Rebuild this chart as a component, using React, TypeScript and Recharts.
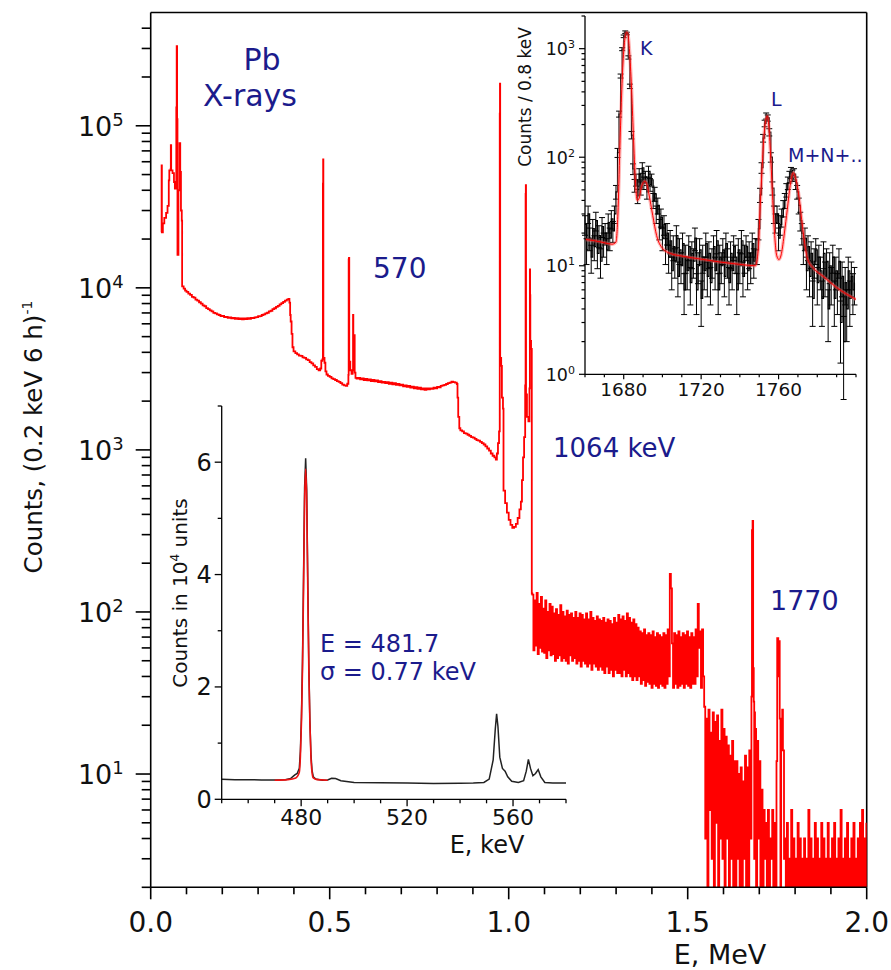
import { LineChart, Line, XAxis, YAxis, ReferenceLine, ErrorBar } from 'recharts';

const FONT = '"DejaVu Sans", Verdana, sans-serif';
const NAVY = '#1b1b8c';
const INK = '#111';

// ---- main spectrum: E in MeV, counts per 0.2 keV in 6 h ----
const xrayPeaks = [
  [0.0295, 2.2e4], [0.0305, 5.7e4], [0.0312, 2.2e4], [0.034, 2.5e4], [0.038, 2.7e4],
  [0.043, 2.9e4], [0.047, 3.2e4], [0.0505, 4.6e4], [0.052, 5.3e4], [0.0555, 5.4e4],
  [0.0562, 7.6e4], [0.0572, 5.3e4], [0.061, 5.1e4], [0.065, 4.5e4], [0.0675, 4.1e4],
  [0.0715, 1.3e5], [0.0726, 3.1e5], [0.0738, 1.1e5], [0.0748, 1.6e4], [0.0775, 4.0e4],
  [0.0805, 7.8e4], [0.0825, 5.2e4], [0.0845, 3.0e4], [0.0868, 2.6e4],
];

const continuum = [
  [0.0878, 1.02e4], [0.092, 9.9e3], [0.096, 9.6e3], [0.1, 9.45e3], [0.105, 9.2e3], [0.11, 9.05e3],
  [0.115, 8.8e3], [0.12, 8.7e3], [0.125, 8.45e3], [0.13, 8.35e3], [0.135, 8.15e3], [0.14, 8.0e3],
  [0.145, 7.8e3], [0.15, 7.7e3], [0.155, 7.5e3], [0.16, 7.4e3], [0.165, 7.25e3], [0.17, 7.15e3],
  [0.175, 7.0e3], [0.18, 6.95e3], [0.185, 6.85e3], [0.19, 6.8e3], [0.195, 6.7e3], [0.2, 6.72e3],
  [0.205, 6.6e3], [0.21, 6.62e3], [0.215, 6.52e3], [0.22, 6.58e3], [0.225, 6.48e3], [0.23, 6.53e3],
  [0.235, 6.44e3], [0.24, 6.5e3], [0.245, 6.42e3], [0.25, 6.48e3], [0.255, 6.4e3], [0.26, 6.47e3],
  [0.265, 6.42e3], [0.27, 6.5e3], [0.275, 6.44e3], [0.28, 6.52e3], [0.285, 6.5e3], [0.29, 6.58e3],
  [0.295, 6.6e3], [0.3, 6.68e3], [0.305, 6.7e3], [0.31, 6.8e3], [0.315, 6.85e3], [0.32, 6.95e3],
  [0.325, 7.02e3], [0.33, 7.15e3], [0.335, 7.22e3], [0.34, 7.38e3], [0.345, 7.48e3], [0.35, 7.62e3],
  [0.355, 7.75e3], [0.36, 7.9e3], [0.365, 8.05e3], [0.37, 8.2e3], [0.375, 8.35e3], [0.38, 8.45e3],
  [0.3845, 8.55e3], [0.3875, 8.1e3], [0.3895, 6.8e3], [0.391, 6.2e3], [0.3935, 5.2e3], [0.396, 4.3e3],
  [0.399, 4.05e3], [0.404, 3.95e3], [0.409, 3.88e3], [0.414, 3.82e3], [0.419, 3.8e3], [0.424, 3.72e3],
  [0.429, 3.7e3], [0.434, 3.62e3], [0.439, 3.58e3], [0.444, 3.48e3], [0.449, 3.42e3], [0.454, 3.32e3],
  [0.459, 3.25e3], [0.464, 3.15e3], [0.469, 3.1e3], [0.4735, 3.18e3], [0.4765, 3.55e3], [0.4795, 3.62e3],
  [0.481, 4.4e4], [0.4817, 6.2e4], [0.4823, 3.7e3], [0.4855, 3.45e3], [0.488, 3.05e3], [0.491, 2.92e3],
  [0.495, 2.86e3], [0.5, 2.82e3], [0.505, 2.76e3], [0.51, 2.73e3], [0.515, 2.7e3], [0.52, 2.66e3],
  [0.525, 2.63e3], [0.53, 2.58e3], [0.535, 2.53e3], [0.54, 2.5e3], [0.545, 2.48e3], [0.549, 2.56e3],
  [0.5522, 2.9e3], [0.553, 1.5e4], [0.5538, 1.53e4], [0.5546, 3.5e3], [0.5575, 3.1e3], [0.561, 2.95e3],
  [0.564, 3.1e3], [0.5652, 6.8e3], [0.566, 4.0e3], [0.568, 3.3e3], [0.569, 5.1e3], [0.5698, 3.0e3],
  [0.572, 2.78e3], [0.575, 2.75e3], [0.58, 2.78e3], [0.585, 2.72e3], [0.59, 2.76e3], [0.595, 2.7e3],
  [0.6, 2.74e3], [0.605, 2.69e3], [0.61, 2.72e3], [0.615, 2.66e3], [0.62, 2.7e3], [0.625, 2.65e3],
  [0.63, 2.68e3], [0.635, 2.62e3], [0.64, 2.66e3], [0.645, 2.6e3], [0.65, 2.63e3], [0.655, 2.58e3],
  [0.66, 2.62e3], [0.665, 2.56e3], [0.67, 2.6e3], [0.675, 2.54e3], [0.68, 2.58e3], [0.685, 2.52e3],
  [0.69, 2.55e3], [0.695, 2.5e3], [0.7, 2.53e3], [0.705, 2.47e3], [0.71, 2.5e3], [0.715, 2.45e3],
  [0.72, 2.48e3], [0.725, 2.42e3], [0.73, 2.46e3], [0.735, 2.4e3], [0.74, 2.44e3], [0.745, 2.38e3],
  [0.75, 2.42e3], [0.755, 2.36e3], [0.76, 2.4e3], [0.765, 2.35e3], [0.77, 2.4e3], [0.775, 2.36e3],
  [0.78, 2.4e3], [0.785, 2.38e3], [0.79, 2.42e3], [0.795, 2.4e3], [0.8, 2.45e3], [0.805, 2.43e3],
  [0.81, 2.48e3], [0.815, 2.5e3], [0.82, 2.52e3], [0.825, 2.55e3], [0.83, 2.58e3], [0.835, 2.6e3],
  [0.84, 2.64e3], [0.845, 2.62e3], [0.85, 2.6e3], [0.855, 2.55e3], [0.857, 2.1e3], [0.859, 1.6e3],
  [0.862, 1.36e3], [0.865, 1.32e3], [0.87, 1.3e3], [0.875, 1.27e3], [0.88, 1.26e3], [0.885, 1.24e3],
  [0.89, 1.22e3], [0.895, 1.2e3], [0.9, 1.19e3], [0.905, 1.17e3], [0.91, 1.15e3], [0.915, 1.14e3],
  [0.92, 1.12e3], [0.925, 1.1e3], [0.93, 1.08e3], [0.935, 1.05e3], [0.94, 1.02e3], [0.945, 990],
  [0.95, 950], [0.955, 920], [0.96, 900], [0.964, 870], [0.967, 950], [0.97, 1.1e3], [0.973, 1.3e3],
  [0.975, 1.19e5], [0.9756, 1.82e5], [0.9762, 3.7e3], [0.979, 3.3e3], [0.981, 2.1e3], [0.984, 1.8e3],
  [0.9855, 560], [0.99, 470], [0.995, 410], [1.0, 370], [1.005, 345], [1.01, 330], [1.015, 335],
  [1.02, 350], [1.025, 380], [1.03, 430], [1.034, 480], [1.037, 650], [1.04, 900], [1.043, 1.2e3],
  [1.046, 2.5e3], [1.0472, 3.8e4], [1.0478, 4.3e4], [1.0484, 2.2e3], [1.051, 1.6e3], [1.055, 1.5e3],
  [1.058, 2.4e3], [1.0592, 1.3e4], [1.0598, 9.0e3], [1.0604, 4.7e3], [1.0625, 4.2e3], [1.0645, 130],
];

const bandStart = 1.066;
const bandCounts = [
  128, 58, 118, 62, 131, 55, 112, 60, 124, 57,
  105, 56, 118, 52, 100, 58, 112, 54, 108, 55,
  98, 50, 104, 52, 96, 54, 110, 50, 100, 52,
  94, 50, 102, 48, 96, 54, 98, 50, 92, 52,
  100, 48, 92, 50, 98, 46, 96, 50, 90, 48,
  98, 46, 90, 48, 100, 44, 92, 48, 88, 46,
  94, 44, 90, 46, 88, 44, 92, 42, 86, 46,
  90, 42, 88, 44, 84, 40, 92, 44, 86, 42,
  96, 42, 90, 40, 94, 44, 88, 40, 98, 42,
  92, 40, 86, 38, 90, 40, 84, 38, 80, 40,
  76, 36, 74, 38, 78, 35, 72, 37, 74, 36,
  72, 34, 76, 36, 70, 35, 74, 34, 72, 36,
  70, 35, 74, 34, 72, 36, 78, 40, 172, 140,
  64, 34, 74, 36, 72, 34, 76, 35, 70, 36,
  74, 34, 72, 36, 76, 35, 70, 34, 74, 36,
  70, 36, 78, 40, 112, 60, 76, 34, 78, 40,
];

const tail1Start = 1.546;
const tail1Counts = [
  26, 4, 22, 2, 25, 6, 18, 3, 24, 2,
  21, 5, 23, 2, 16, 4, 25, 3, 19, 2,
  17, 4, 15, 2, 13, 3, 16, 2, 12, 2,
  12, 3, 10, 2, 11, 2, 9, 3, 13, 2,
  11, 2, 14, 4,
];
const kPeakMain = [
  [1.678, 30], [1.6795, 320], [1.6812, 365], [1.6828, 45], [1.6845, 28], [1.6858, 3], [1.6868, 24],
];
const tail2Start = 1.688;
const tail2Counts = [19, 2, 16, 4, 12, 2, 8, 2, 6, 3, 5, 2, 6, 2, 4, 3, 6, 2, 5, 2];
const lPeakMain = [
  [1.748, 12], [1.75, 69], [1.753, 40], [1.7545, 66], [1.757, 22], [1.759, 2], [1.761, 18],
  [1.764, 25], [1.766, 14], [1.769, 3],
];
const tail3Start = 1.771;
const tail3Counts = [
  4, 2, 5, 2, 3, 2, 6, 2, 4, 2,
  3, 2, 5, 2, 4, 2, 3, 2, 4, 2,
  3, 2, 6, 2, 4, 2, 3, 2, 5, 2,
  4, 2, 3, 2, 5, 2, 4, 2, 3, 2,
  5, 2, 3, 2, 4, 2, 5, 2, 3, 2,
  4, 2, 6, 2, 3, 2, 4, 2, 5, 2,
  3, 2, 4, 2, 5, 2, 3, 2, 4, 2,
  5, 2, 6, 2, 4, 2, 5,
];
const mainStep = 0.003;

// ---- lower inset: E in keV, counts in 10^4 units ----
const lowData = [
  [450, 0.355], [455, 0.35], [460, 0.35], [465, 0.345], [470, 0.345], [474, 0.35], [476, 0.37],
  [477.5, 0.43], [478.5, 0.46], [479.3, 0.55], [479.7, 0.85], [480.1, 1.45], [480.5, 2.45],
  [480.9, 3.95], [481.3, 5.55], [481.7, 6.07], [482.1, 5.5], [482.5, 3.9], [482.9, 2.4],
  [483.3, 1.4], [483.7, 0.8], [484.1, 0.52], [484.6, 0.4], [485.5, 0.36], [488, 0.34], [490, 0.345],
  [491.5, 0.375], [493, 0.37], [495, 0.33], [500, 0.3], [510, 0.295], [520, 0.29], [530, 0.28],
  [540, 0.285], [545, 0.29], [549, 0.3], [551, 0.36], [552.5, 0.7], [553.3, 1.25], [553.8, 1.52],
  [554.3, 1.3], [555, 0.75], [556, 0.55], [557, 0.5], [558, 0.4], [559.5, 0.32], [562, 0.3],
  [564, 0.33], [565, 0.5], [565.8, 0.71], [566.6, 0.55], [567.5, 0.42], [568.5, 0.46], [569.5, 0.53],
  [570.5, 0.4], [572, 0.3], [575, 0.29], [580, 0.29],
];
const lowFit = [
  [470, 0.34], [475, 0.35], [478, 0.38], [479.3, 0.48], [479.7, 0.75], [480.1, 1.35], [480.5, 2.3],
  [480.9, 3.75], [481.3, 5.3], [481.7, 5.88], [482.1, 5.3], [482.5, 3.75], [482.9, 2.3], [483.3, 1.35],
  [483.7, 0.75], [484.1, 0.48], [484.6, 0.38], [486, 0.35], [490, 0.34],
];

// ---- upper inset: E in keV, counts / 0.8 keV ----
const upStart = 1660;
const upStep = 0.8;
const upCounts = [
  24, 14, 30, 18, 12, 22, 15, 26, 13, 19, 11, 23, 16, 20, 14, 25, 18, 27, 21,
  30, 48, 110, 250, 560, 990, 1300, 1420, 1380, 830, 450, 160, 78, 55,
  62, 44, 70, 52, 80, 58, 66, 48, 74, 56, 62, 40, 46, 30, 36, 22, 28, 18, 24, 14,
  20, 12, 17, 9, 15, 11, 19, 8, 14, 10, 16, 6, 12, 9, 15, 7, 13, 11, 18, 6,
  10, 14, 5, 12, 9, 16, 8, 13, 7, 11, 15, 9, 17, 6, 12, 10, 14, 8, 16, 11,
  7, 13, 9, 15, 12, 6, 14, 10, 17, 8, 12, 15, 9, 13, 10, 16, 11, 14,
  14, 22, 45, 80, 150, 205, 240, 230, 170, 100, 52, 30, 25, 30, 18, 24, 28, 34, 40, 50,
  58, 66, 72, 68, 70, 58, 48, 36, 26, 20, 14, 18, 9, 15, 8, 13, 5, 11, 14, 7,
  12, 9, 5, 13, 8, 11, 4, 10, 7, 12, 5, 9, 6, 11, 3, 8, 2, 7, 4, 9, 5, 8, 6, 7,
];
const upFit = [
  [1660, 17.5], [1665, 17], [1670, 16.3], [1674, 15.8], [1676, 16.5], [1677, 30], [1678, 120],
  [1679, 420], [1680, 950], [1681, 1350], [1681.6, 1420], [1682.2, 1350], [1683, 950], [1684, 450],
  [1685, 160], [1686, 62], [1687, 40], [1688, 42], [1689, 52], [1690, 58], [1691, 60], [1692, 56],
  [1693, 46], [1695, 29], [1697, 19], [1700, 14.5], [1704, 13], [1710, 12.3], [1720, 11.5],
  [1730, 10.8], [1740, 10.3], [1748, 10], [1749.5, 14], [1750.5, 35], [1751.5, 80], [1752.5, 160],
  [1753.5, 225], [1754.2, 240], [1755, 190], [1756, 95], [1757, 40], [1758, 19], [1759, 12.5],
  [1760.2, 11.4], [1761.5, 13], [1763, 20], [1764.5, 33], [1766, 55], [1767.6, 72], [1769, 62],
  [1770.5, 44], [1772, 26], [1773.5, 16], [1775, 11.5], [1778, 9.5], [1783, 8], [1790, 6.3],
  [1795, 5.5], [1800, 4.9],
];

// ---- ticks ----
const mainXMajor = [0, 0.5, 1.0, 1.5, 2.0];
const mainXMinor = [0.1, 0.2, 0.3, 0.4, 0.6, 0.7, 0.8, 0.9, 1.1, 1.2, 1.3, 1.4, 1.6, 1.7, 1.8, 1.9];
const mainYMajor = [10, 100, 1000, 10000, 100000];
const mainYMinor = [1, 10, 100, 1000, 10000, 100000]
  .flatMap((d) => [2, 3, 4, 5, 6, 7, 8, 9].map((m) => m * d))
  .filter((v) => v >= 2 && v < 5e5);
const lowXMajor = [480, 520, 560];
const lowXMinor = [450, 460, 470, 490, 500, 510, 530, 540, 550, 570, 580];
const lowYMajor = [0, 2, 4, 6];
const lowYMinor = [1, 3, 5, 7];
const upXMajor = [1680, 1720, 1760];
const upXMinor = [1660, 1670, 1690, 1700, 1710, 1730, 1740, 1750, 1770, 1780, 1790, 1800];
const upYMajor = [1, 10, 100, 1000];
const upYMinor = [1, 10, 100, 1000]
  .flatMap((d) => [2, 3, 4, 5, 6, 7, 8, 9].map((m) => m * d))
  .filter((v) => v <= 2000);

type Pt = { e: number; v: number; err?: number };
const fromPairs = (pairs: number[][]): Pt[] => pairs.map(([e, v]) => ({ e, v }));
const fromBins = (start: number, step: number, counts: number[]): Pt[] =>
  counts.map((v, i) => ({ e: +(start + i * step).toFixed(4), v }));

const mainData: Pt[] = [
  ...fromPairs(xrayPeaks),
  ...fromPairs(continuum),
  ...fromBins(bandStart, mainStep, bandCounts),
  ...fromBins(tail1Start, mainStep, tail1Counts),
  ...fromPairs(kPeakMain),
  ...fromBins(tail2Start, mainStep, tail2Counts),
  ...fromPairs(lPeakMain),
  ...fromBins(tail3Start, mainStep, tail3Counts),
].sort((a, b) => a.e - b.e);

const upData: Pt[] = fromBins(upStart, upStep, upCounts).map((p) => ({ ...p, err: Math.sqrt(p.v) }));

function xTick(major: number[], majLen: number, minLen: number, fs: number, dy: number, fmt: (v: number) => string, sw = 1.5) {
  return (p: any) => {
    const v = p.payload.value;
    const isMajor = major.includes(v);
    return (
      <g>
        <line x1={p.x} x2={p.x} y1={p.y} y2={p.y + (isMajor ? majLen : minLen)} stroke="#000" strokeWidth={sw} />
        {isMajor && (
          <text x={p.x} y={p.y + dy} textAnchor="middle" fontFamily={FONT} fontSize={fs} fill={INK}>
            {fmt(v)}
          </text>
        )}
      </g>
    );
  };
}

function yTickPow(major: number[], majLen: number, minLen: number, fs: number, sup: number, gap: number, base: number, supDy: number, sw = 1.5) {
  return (p: any) => {
    const v = p.payload.value;
    const isMajor = major.includes(v);
    return (
      <g>
        <line x1={p.x - (isMajor ? majLen : minLen)} x2={p.x} y1={p.y} y2={p.y} stroke="#000" strokeWidth={sw} />
        {isMajor && (
          <text x={p.x - gap} y={p.y + base} textAnchor="end" fontFamily={FONT} fontSize={fs} fill={INK}>
            10
            <tspan dy={supDy} fontSize={sup}>{Math.round(Math.log10(v))}</tspan>
          </text>
        )}
      </g>
    );
  };
}

function yTickLin(major: number[], majLen: number, minLen: number, fs: number, gap: number, base: number, sw = 1.3) {
  return (p: any) => {
    const v = p.payload.value;
    const isMajor = major.includes(v);
    return (
      <g>
        <line x1={p.x - (isMajor ? majLen : minLen)} x2={p.x} y1={p.y} y2={p.y} stroke="#000" strokeWidth={sw} />
        {isMajor && (
          <text x={p.x - gap} y={p.y + base} textAnchor="end" fontFamily={FONT} fontSize={fs} fill={INK}>
            {v}
          </text>
        )}
      </g>
    );
  };
}

const layer: React.CSSProperties = { position: 'absolute', left: 0, top: 0 };
const W = 891;
const H = 970;

export default function App() {
  return (
    <div style={{ position: 'absolute', left: 0, top: 0, width: W, height: H, background: '#fff', overflow: 'hidden' }}>
      <div style={layer}>
        <LineChart width={W} height={H} margin={{ top: 12.5, right: 24.3, left: 90.7, bottom: 42.7 }}>
          <XAxis
            dataKey="e"
            type="number"
            domain={[0, 2]}
            allowDataOverflow
            ticks={[...mainXMajor, ...mainXMinor]}
            interval={0}
            height={40}
            tickSize={0}
            tickMargin={0}
            tickLine={false}
            axisLine={{ stroke: '#000', strokeWidth: 1.6 }}
            tick={xTick(mainXMajor, 12, 7, 28, 45, (v) => v.toFixed(1), 1.6)}
          />
          <YAxis
            type="number"
            scale="log"
            domain={[2, 5e5]}
            allowDataOverflow
            ticks={[...mainYMajor, ...mainYMinor]}
            interval={0}
            width={60}
            tickSize={0}
            tickMargin={0}
            tickLine={false}
            axisLine={{ stroke: '#000', strokeWidth: 1.6 }}
            tick={yTickPow(mainYMajor, 15, 9, 27, 18, 27, 10, -10, 1.6)}
          />
          <ReferenceLine y={5e5} stroke="#000" strokeWidth={1.6} />
          <ReferenceLine x={2} stroke="#000" strokeWidth={1.6} />
          <Line data={mainData} dataKey="v" type="stepAfter" stroke="#ff0000" strokeWidth={1.8} dot={false} isAnimationActive={false} />
        </LineChart>
      </div>

      <div style={layer}>
        <LineChart width={W} height={H} margin={{ top: 406, right: 325, left: 161.7, bottom: 130.7 }}>
          <XAxis
            dataKey="e"
            type="number"
            domain={[450, 580]}
            allowDataOverflow
            ticks={[...lowXMajor, ...lowXMinor]}
            interval={0}
            height={40}
            tickSize={0}
            tickMargin={0}
            tickLine={false}
            axisLine={{ stroke: '#000', strokeWidth: 1.3 }}
            tick={xTick(lowXMajor, 7, 4, 22, 26, (v) => String(v), 1.3)}
          />
          <YAxis
            type="number"
            domain={[0, 7]}
            allowDataOverflow
            ticks={[...lowYMajor, ...lowYMinor]}
            interval={0}
            width={60}
            tickSize={0}
            tickMargin={0}
            tickLine={false}
            axisLine={{ stroke: '#000', strokeWidth: 1.3 }}
            tick={yTickLin(lowYMajor, 7, 4, 24, 10, 8.5)}
          />
          <Line data={fromPairs(lowData)} dataKey="v" type="linear" stroke="#222" strokeWidth={1.5} dot={false} isAnimationActive={false} />
          <Line data={fromPairs(lowFit)} dataKey="v" type="monotone" stroke="#ee1111" strokeWidth={1.6} dot={false} isAnimationActive={false} />
        </LineChart>
      </div>

      <div style={layer}>
        <LineChart width={W} height={H} margin={{ top: 16, right: 35, left: 525, bottom: 555.7 }}>
          <XAxis
            dataKey="e"
            type="number"
            domain={[1660, 1800]}
            allowDataOverflow
            ticks={[...upXMajor, ...upXMinor]}
            interval={0}
            height={40}
            tickSize={0}
            tickMargin={0}
            tickLine={false}
            axisLine={{ stroke: '#000', strokeWidth: 1.3 }}
            tick={xTick(upXMajor, 5, 3, 18.5, 22, (v) => String(v), 1.2)}
          />
          <YAxis
            type="number"
            scale="log"
            domain={[1, 2000]}
            allowDataOverflow
            ticks={[...upYMajor, ...upYMinor]}
            interval={0}
            width={60}
            tickSize={0}
            tickMargin={0}
            tickLine={false}
            axisLine={{ stroke: '#000', strokeWidth: 1.3 }}
            tick={yTickPow(upYMajor, 6, 3.5, 17.5, 11, 10, 6.5, -7, 1.2)}
          />
          <Line data={upData} dataKey="v" type="stepAfter" stroke="#000" strokeWidth={1.2} dot={false} isAnimationActive={false}>
            <ErrorBar dataKey="err" width={3} stroke="#000" strokeWidth={1} direction="y" />
          </Line>
          <Line data={fromPairs(upFit)} dataKey="v" type="monotone" stroke="#ff6060" strokeOpacity={0.45} strokeWidth={3.5} dot={false} isAnimationActive={false} />
          <Line data={fromPairs(upFit)} dataKey="v" type="monotone" stroke="#ff0000" strokeWidth={1} dot={false} isAnimationActive={false} />
        </LineChart>
      </div>

      <svg width={W} height={H} style={{ ...layer, pointerEvents: 'none' }} fontFamily={FONT}>
        <text transform="translate(42,437) rotate(-90)" textAnchor="middle" fontSize={24.5} fill={INK}>
          Counts, (0.2 keV 6 h)<tspan dy={-10} fontSize={14}>-1</tspan>
        </text>
        <text x={720} y={964} textAnchor="middle" fontSize={27} fill={INK}>E, MeV</text>

        <text transform="translate(187,593) rotate(-90)" textAnchor="middle" fontSize={20} fill={INK}>
          Counts in 10<tspan dy={-8} fontSize={12}>4</tspan><tspan dy={8}> units</tspan>
        </text>
        <text x={487} y={853} textAnchor="middle" fontSize={24} fill={INK}>E, keV</text>

        <text transform="translate(531,97) rotate(-90)" textAnchor="middle" fontSize={17} fill={INK}>Counts / 0.8 keV</text>

        <text x={262} y={70} textAnchor="middle" fontSize={30} fill={NAVY}>Pb</text>
        <text x={250} y={106} textAnchor="middle" fontSize={30} fill={NAVY}>X-rays</text>
        <text x={373} y={278} fontSize={28} fill={NAVY}>570</text>
        <text x={553} y={457} fontSize={26} fill={NAVY}>1064 keV</text>
        <text x={770} y={610} fontSize={27} fill={NAVY}>1770</text>
        <text x={320} y={652} fontSize={24} fill={NAVY}>E = 481.7</text>
        <text x={320} y={680} fontSize={24} fill={NAVY}>σ = 0.77 keV</text>
        <text x={640} y={55} fontSize={19} fill={NAVY}>K</text>
        <text x={771} y={106} fontSize={19} fill={NAVY}>L</text>
        <text x={788} y={162} fontSize={19} fill={NAVY}>M+N+..</text>
      </svg>
    </div>
  );
}
